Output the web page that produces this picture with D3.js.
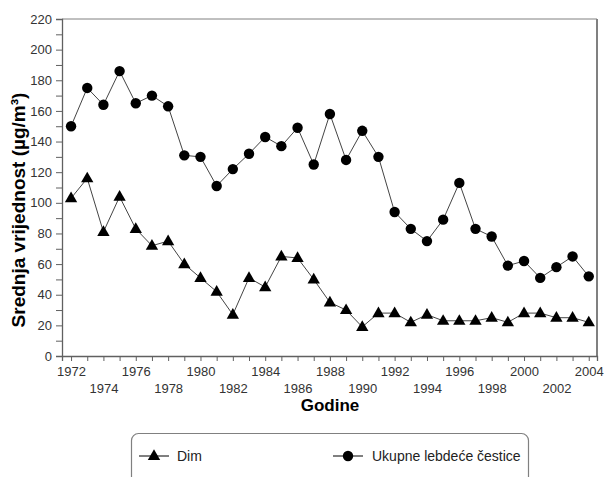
<!DOCTYPE html>
<html>
<head>
<meta charset="utf-8">
<script src="https://cdn.jsdelivr.net/npm/d3@7"></script>
<style>
    body { margin: 0; background: #fff; }
    svg { display: block; font-family: "Liberation Sans", Arial, sans-serif; }
</style>
</head>
<body>
<div id="chart"></div>
<script>
// years on the x axis
const years = d3.range(1972, 2005);

// Dim (smoke), µg/m³
const dim = [103, 116, 81, 104, 83, 72, 75, 60, 51, 42, 27, 51, 45, 65, 64, 50,
    35, 30, 19, 28, 28, 22, 27, 23, 23, 23, 25, 22, 28, 28, 25, 25, 22];

// Ukupne lebdeće čestice (total suspended particles), µg/m³
const ulc = [150, 175, 164, 186, 165, 170, 163, 131, 130, 111, 122, 132, 143, 137, 149, 125,
    158, 128, 147, 130, 94, 83, 75, 89, 113, 83, 78, 59, 62, 51, 58, 65, 52];

const yTicks = d3.range(0, 221, 10);
const legendNames = ["Dim", "Ukupne lebdeće čestice"];

const W = 604, H = 477;
const margin = {left: 62, top: 19, right: 7, bottom: 120};
const width = W - margin.left - margin.right,
    height = H - margin.top - margin.bottom - 1;

const svg = d3.select("#chart").append("svg")
    .attr("width", W)
    .attr("height", H);

const g = svg.append("g")
    .attr("transform", "translate(" + margin.left + "," + margin.top + ")");

// scales
const x = d3.scaleLinear().domain([1971.44, 2004.51]).range([0, width]);
const y = d3.scaleLinear().domain([0, 220]).range([height, 0]);

// frame: top and right in light gray
g.append("line")
    .attr("x1", 0).attr("x2", width).attr("y1", 0).attr("y2", 0)
    .attr("stroke", "#808080");
g.append("line")
    .attr("x1", width).attr("x2", width).attr("y1", 0).attr("y2", height)
    .attr("stroke", "#808080").attr("stroke-width", 2);

// y axis
const yAxis = g.append("g")
    .call(d3.axisLeft(y)
        .tickValues(yTicks)
        .tickSize(6)
        .tickPadding(4)
        .tickFormat(d => d % 20 === 0 ? d : ""));

// x axis, labels every 2 years in two staggered rows
const xAxis = g.append("g")
    .attr("transform", "translate(0," + height + ")")
    .call(d3.axisBottom(x)
        .tickValues(years)
        .tickSize(5)
        .tickPadding(5)
        .tickFormat(d => d % 2 === 0 ? d : ""));

xAxis.selectAll(".tick text")
    .attr("dy", d => (d - 1972) % 4 === 2 ? "2.05em" : "0.8em");

[xAxis, yAxis].forEach(a => {
    a.select(".domain").attr("stroke", "#606060").attr("stroke-width", 1.3);
    a.selectAll(".tick line").attr("stroke", "#606060");
    a.selectAll(".tick text")
        .attr("fill", "#333")
        .style("font-size", "13px")
        .style("font-family", "Liberation Sans, Arial, sans-serif");
});

// axis titles
svg.append("text")
    .attr("x", 330).attr("y", 411)
    .attr("text-anchor", "middle")
    .style("font-weight", "bold")
    .style("font-size", "17px")
    .text("Godine");

svg.append("text")
    .attr("transform", "translate(25,210) rotate(-90)")
    .attr("text-anchor", "middle")
    .style("font-weight", "bold")
    .style("font-size", "19px")
    .text("Srednja vrijednost (µg/m³)");

// line generator
const line = d3.line()
    .x((d, i) => x(years[i]))
    .y(d => y(d));

const triangle = d3.symbol().type(d3.symbolTriangle).size(66);

// series lines
[dim, ulc].forEach(s => {
    g.append("path")
        .datum(s)
        .attr("fill", "none")
        .attr("stroke", "#444")
        .attr("stroke-width", 1)
        .attr("d", line);
});

// markers
g.selectAll(".dim-pt")
    .data(dim)
    .enter()
    .append("path")
    .attr("class", "dim-pt")
    .attr("d", triangle)
    .attr("fill", "#000")
    .attr("transform", (d, i) => "translate(" + x(years[i]) + "," + (y(d) + 0.5) + ")");

g.selectAll(".ulc-pt")
    .data(ulc)
    .enter()
    .append("circle")
    .attr("class", "ulc-pt")
    .attr("r", 5.2)
    .attr("fill", "#000")
    .attr("cx", (d, i) => x(years[i]))
    .attr("cy", d => y(d));

// legend
const legend = svg.append("g");
legend.append("rect")
    .attr("x", 131.5).attr("y", 433.5)
    .attr("width", 397).attr("height", 60)
    .attr("rx", 7)
    .attr("fill", "none")
    .attr("stroke", "#808080")
    .attr("stroke-width", 1.2);

const items = legend.selectAll(".legend-item")
    .data(legendNames)
    .enter()
    .append("g")
    .attr("class", "legend-item")
    .attr("transform", (d, i) => "translate(" + (i === 0 ? 139 : 333) + ",456)");

items.append("line")
    .attr("x1", 0).attr("x2", 30)
    .attr("stroke", "#000").attr("stroke-width", 1);

items.each(function(d, i) {
    const it = d3.select(this);
    if (i === 0) {
        it.append("path").attr("d", triangle).attr("transform", "translate(15,0.5)");
    } else {
        it.append("circle").attr("cx", 15).attr("r", 5.2);
    }
});

items.append("text")
    .attr("x", (d, i) => i === 0 ? 38 : 39)
    .attr("y", 5)
    .attr("fill", "#222")
    .style("font-size", "14px")
    .text(d => d);
</script>
</body>
</html>
